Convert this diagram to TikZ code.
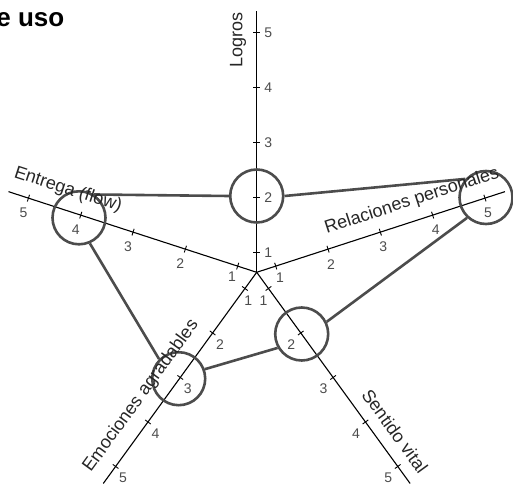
\documentclass[tikz,border=0pt]{standalone}
\usepackage{fontspec}
\setmainfont{Liberation Sans}
\usetikzlibrary{calc}
\begin{document}
\begin{tikzpicture}[x=1pt,y=1pt,
  axisline/.style={line width=1.1pt, black},
  tickmark/.style={line width=0.9pt, black},
  ticklbl/.style={font=\fontsize{14}{14}\selectfont, text=black!70, inner sep=0},
  axislbl/.style={font=\fontsize{18}{18}\selectfont, text=black!85, inner sep=0},
  valcircle/.style={circle, draw=black!70, line width=2.6pt, minimum size=53pt, inner sep=0},
  link/.style={draw=black!70, line width=2.6pt}]
\useasboundingbox (0,0) rectangle (513,485);
\coordinate (C) at (256.7,212.7);
% axes with ticks and tick labels
\foreach \a/\n/\dx/\dy/\ex/\ey in {90/lo/11.6/0/11.6/0, 162/en/-5/-14.5/-5.7/-11, 18/re/3/-15/4.3/-11.3, 234/em/7.5/-11.5/3.4/-12.7, 306/se/-9.5/-11.5/-5/-12.7} {
  \draw[axisline] (C) -- ++(\a:261) coordinate (\n end);
  \foreach \k in {1,...,5} {
    \draw[tickmark] ($(C)+(\a:55*\k-35)+(\a+90:3.5)$) -- ($(C)+(\a:55*\k-35)+(\a-90:3.5)$);
  }
  \foreach \k in {2,...,5} {
    \node[ticklbl] (\n\k) at ($(C)+(\a:55*\k-35)+(\dx,\dy)$) {\k};
  }
  \node[ticklbl] (\n1) at ($(C)+(\a:20)+(\ex,\ey)$) {1};
}
% value circles
\node[valcircle] (L) at (256.7,289) {};
\node[valcircle] (E) at (79,267.2) {};
\node[valcircle] (R) at (486,287.5) {};
\node[valcircle] (Em) at (178.7,106.3) {};
\node[valcircle] (S) at (301.7,151) {};
% connectors
\draw[link] (L.180) -- (E.57);
\draw[link] (L.0) -- (R.138);
\draw[link] (E.-67) -- (Em.135);
\draw[link] (Em.20) -- (S.210);
\draw[link] (S.26) -- (R.227);
% axis labels
\node[axislbl, rotate=90] (tlo) at (238,445) {Logros};
\node[axislbl, rotate=-18] (ten) at (68,295) {Entrega (flow)};
\node[axislbl, rotate=18] (tre) at (412,284) {Relaciones personales};
\node[axislbl, rotate=54] (tem) at (141,89) {Emociones agradables};
\node[axislbl, rotate=-54] (tse) at (395,54) {Sentido vital};
% title fragment
\node[font=\bfseries\fontsize{26}{26}\selectfont, anchor=base east, inner sep=0] (title) at (64.5,458.3) {e uso};
\end{tikzpicture}
\end{document}
